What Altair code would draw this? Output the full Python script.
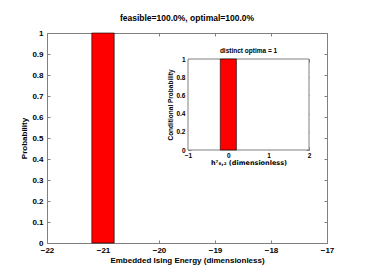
import altair as alt
import pandas as pd

# ---- data ----
energy_bin_start = [-21.2]
energy_bin_end = [-20.8]
energy_prob = [1.0]

field_bin_start = [-0.2]
field_bin_end = [0.2]
field_prob = [1.0]

main_x_ticks = [-22, -21, -20, -19, -18, -17]
main_y_ticks = [0, 0.1, 0.2, 0.3, 0.4, 0.5, 0.6, 0.7, 0.8, 0.9, 1.0]
inset_x_ticks = [-1, 0, 1, 2]
inset_y_ticks = [0, 0.2, 0.4, 0.6, 0.8, 1.0]

main_title = "feasible=100.0%, optimal=100.0%"
inset_title = ["distinct optima = 1"]
main_x_title = "Embedded Ising Energy (dimensionless)"
main_y_title = "Probability"
inset_x_title = "h\u2077\u2088,\u2082 (dimensionless)"
inset_y_title = "Conditional Probability"

# ---- layout ----
W, H = 280, 210
INSET_X = [141, 262]
INSET_Y = [117, 26]
FONT = "Liberation Sans, DejaVu Sans"
AXC = "#808080"
T = 3

main_df = pd.DataFrame({"x0": energy_bin_start, "x1": energy_bin_end, "p": energy_prob})
inset_df = pd.DataFrame({"x0": field_bin_start, "x1": field_bin_end, "p": field_prob})
frame_df = pd.DataFrame({"x0": [inset_x_ticks[0]], "x1": [inset_x_ticks[-1]],
                         "y0": [inset_y_ticks[0]], "y1": [inset_y_ticks[-1]]})
title_df = pd.DataFrame({"t": inset_title,
                         "x": [(inset_x_ticks[0] + inset_x_ticks[-1]) / 2],
                         "y": [inset_y_ticks[-1]]})


def xs_main():
    return alt.Scale(domain=[main_x_ticks[0], main_x_ticks[-1]], nice=False, zero=False)


def ys_main():
    return alt.Scale(domain=[main_y_ticks[0], main_y_ticks[-1]], nice=False)


def xs_in():
    return alt.Scale(domain=[inset_x_ticks[0], inset_x_ticks[-1]], range=INSET_X, nice=False, zero=False)


def ys_in():
    return alt.Scale(domain=[inset_y_ticks[0], inset_y_ticks[-1]], range=INSET_Y, nice=False)


common = dict(domain=False, grid=False, tickSize=T, tickColor=AXC, tickWidth=1,
              labelFont=FONT, labelFontWeight="bold", labelColor="black",
              labelOverlap=False, labelFlush=False,
              titleFontWeight="bold", titleColor="black")

main_fs = 8
inset_fs = 6.5

l1 = alt.Chart(main_df).mark_bar(color="#ff0000", stroke="black", strokeWidth=0.6).encode(
    x=alt.X("x0:Q", scale=xs_main(),
            axis=alt.Axis(orient="bottom", offset=-T, values=main_x_ticks, format="d",
                          labelFontSize=main_fs, labelPadding=3, title=main_x_title,
                          titleFont=FONT, titleFontSize=main_fs, titlePadding=2, **common)),
    x2="x1:Q",
    y=alt.Y("p:Q", scale=ys_main(),
            axis=alt.Axis(orient="left", offset=-T, values=main_y_ticks, format="~g",
                          labelFontSize=main_fs, labelPadding=4, title=main_y_title,
                          titleFont=FONT, titleFontSize=main_fs, titlePadding=3, **common)),
    y2=alt.Y2(datum=0),
)

l2 = alt.Chart(main_df).mark_bar(opacity=0).encode(
    x=alt.X("x0:Q", scale=xs_main(),
            axis=alt.Axis(orient="top", offset=-T, values=main_x_ticks, labels=False,
                          title=None, **common)),
    x2="x1:Q",
    y=alt.Y("p:Q", scale=ys_main(),
            axis=alt.Axis(orient="right", offset=-T, values=main_y_ticks, labels=False,
                          title=None, **common)),
    y2=alt.Y2(datum=0),
)

l3 = alt.Chart(frame_df).mark_rect(fill="white", stroke=AXC, strokeWidth=1).encode(
    x=alt.X("x0:Q", scale=xs_in(),
            axis=alt.Axis(orient="bottom", offset=-(H - INSET_Y[0]) - T, values=inset_x_ticks,
                          format="d", labelFontSize=inset_fs, labelPadding=2,
                          title=inset_x_title, titleFont="DejaVu Sans", titleFontSize=6.5,
                          titlePadding=1, **common)),
    x2="x1:Q",
    y=alt.Y("y0:Q", scale=ys_in(),
            axis=alt.Axis(orient="left", offset=-(INSET_X[0] + T), values=inset_y_ticks,
                          format="~g", labelFontSize=inset_fs, labelPadding=3,
                          title=inset_y_title, titleFont=FONT, titleFontSize=inset_fs,
                          titlePadding=2, **common)),
    y2="y1:Q",
)

l4 = alt.Chart(inset_df).mark_bar(color="#ff0000", stroke="black", strokeWidth=0.6).encode(
    x=alt.X("x0:Q", scale=xs_in(), axis=None),
    x2="x1:Q",
    y=alt.Y("p:Q", scale=ys_in(), axis=None),
    y2=alt.Y2(datum=0),
)

l5 = alt.Chart(frame_df).mark_rect(opacity=0).encode(
    x=alt.X("x0:Q", scale=xs_in(),
            axis=alt.Axis(orient="top", offset=-(INSET_Y[1] + T), values=inset_x_ticks,
                          labels=False, title=None, **common)),
    x2="x1:Q",
    y=alt.Y("y0:Q", scale=ys_in(),
            axis=alt.Axis(orient="right", offset=(INSET_X[1] - T) - W, values=inset_y_ticks,
                          labels=False, title=None, **common)),
    y2="y1:Q",
)

l6 = alt.Chart(title_df).mark_text(font=FONT, fontSize=inset_fs, fontWeight="bold",
                                   color="black", baseline="bottom", dy=-5).encode(
    x=alt.X("x:Q", scale=xs_in(), axis=None),
    y=alt.Y("y:Q", scale=ys_in(), axis=None),
    text="t:N",
)

chart = alt.layer(l1, l2, l3, l4, l5, l6).resolve_scale(
    x="independent", y="independent"
).properties(
    width=W, height=H,
    title=alt.TitleParams(main_title, font=FONT, fontSize=8.5, fontWeight="bold",
                          color="black", offset=7, anchor="middle", frame="group"),
    autosize=alt.AutoSizeParams(type="none"),
    padding={"left": 39, "top": 25, "right": 38, "bottom": 25},
).configure_view(stroke=AXC, strokeWidth=1)

chart.save("out.html", embed_options={"renderer": "svg", "actions": False})
